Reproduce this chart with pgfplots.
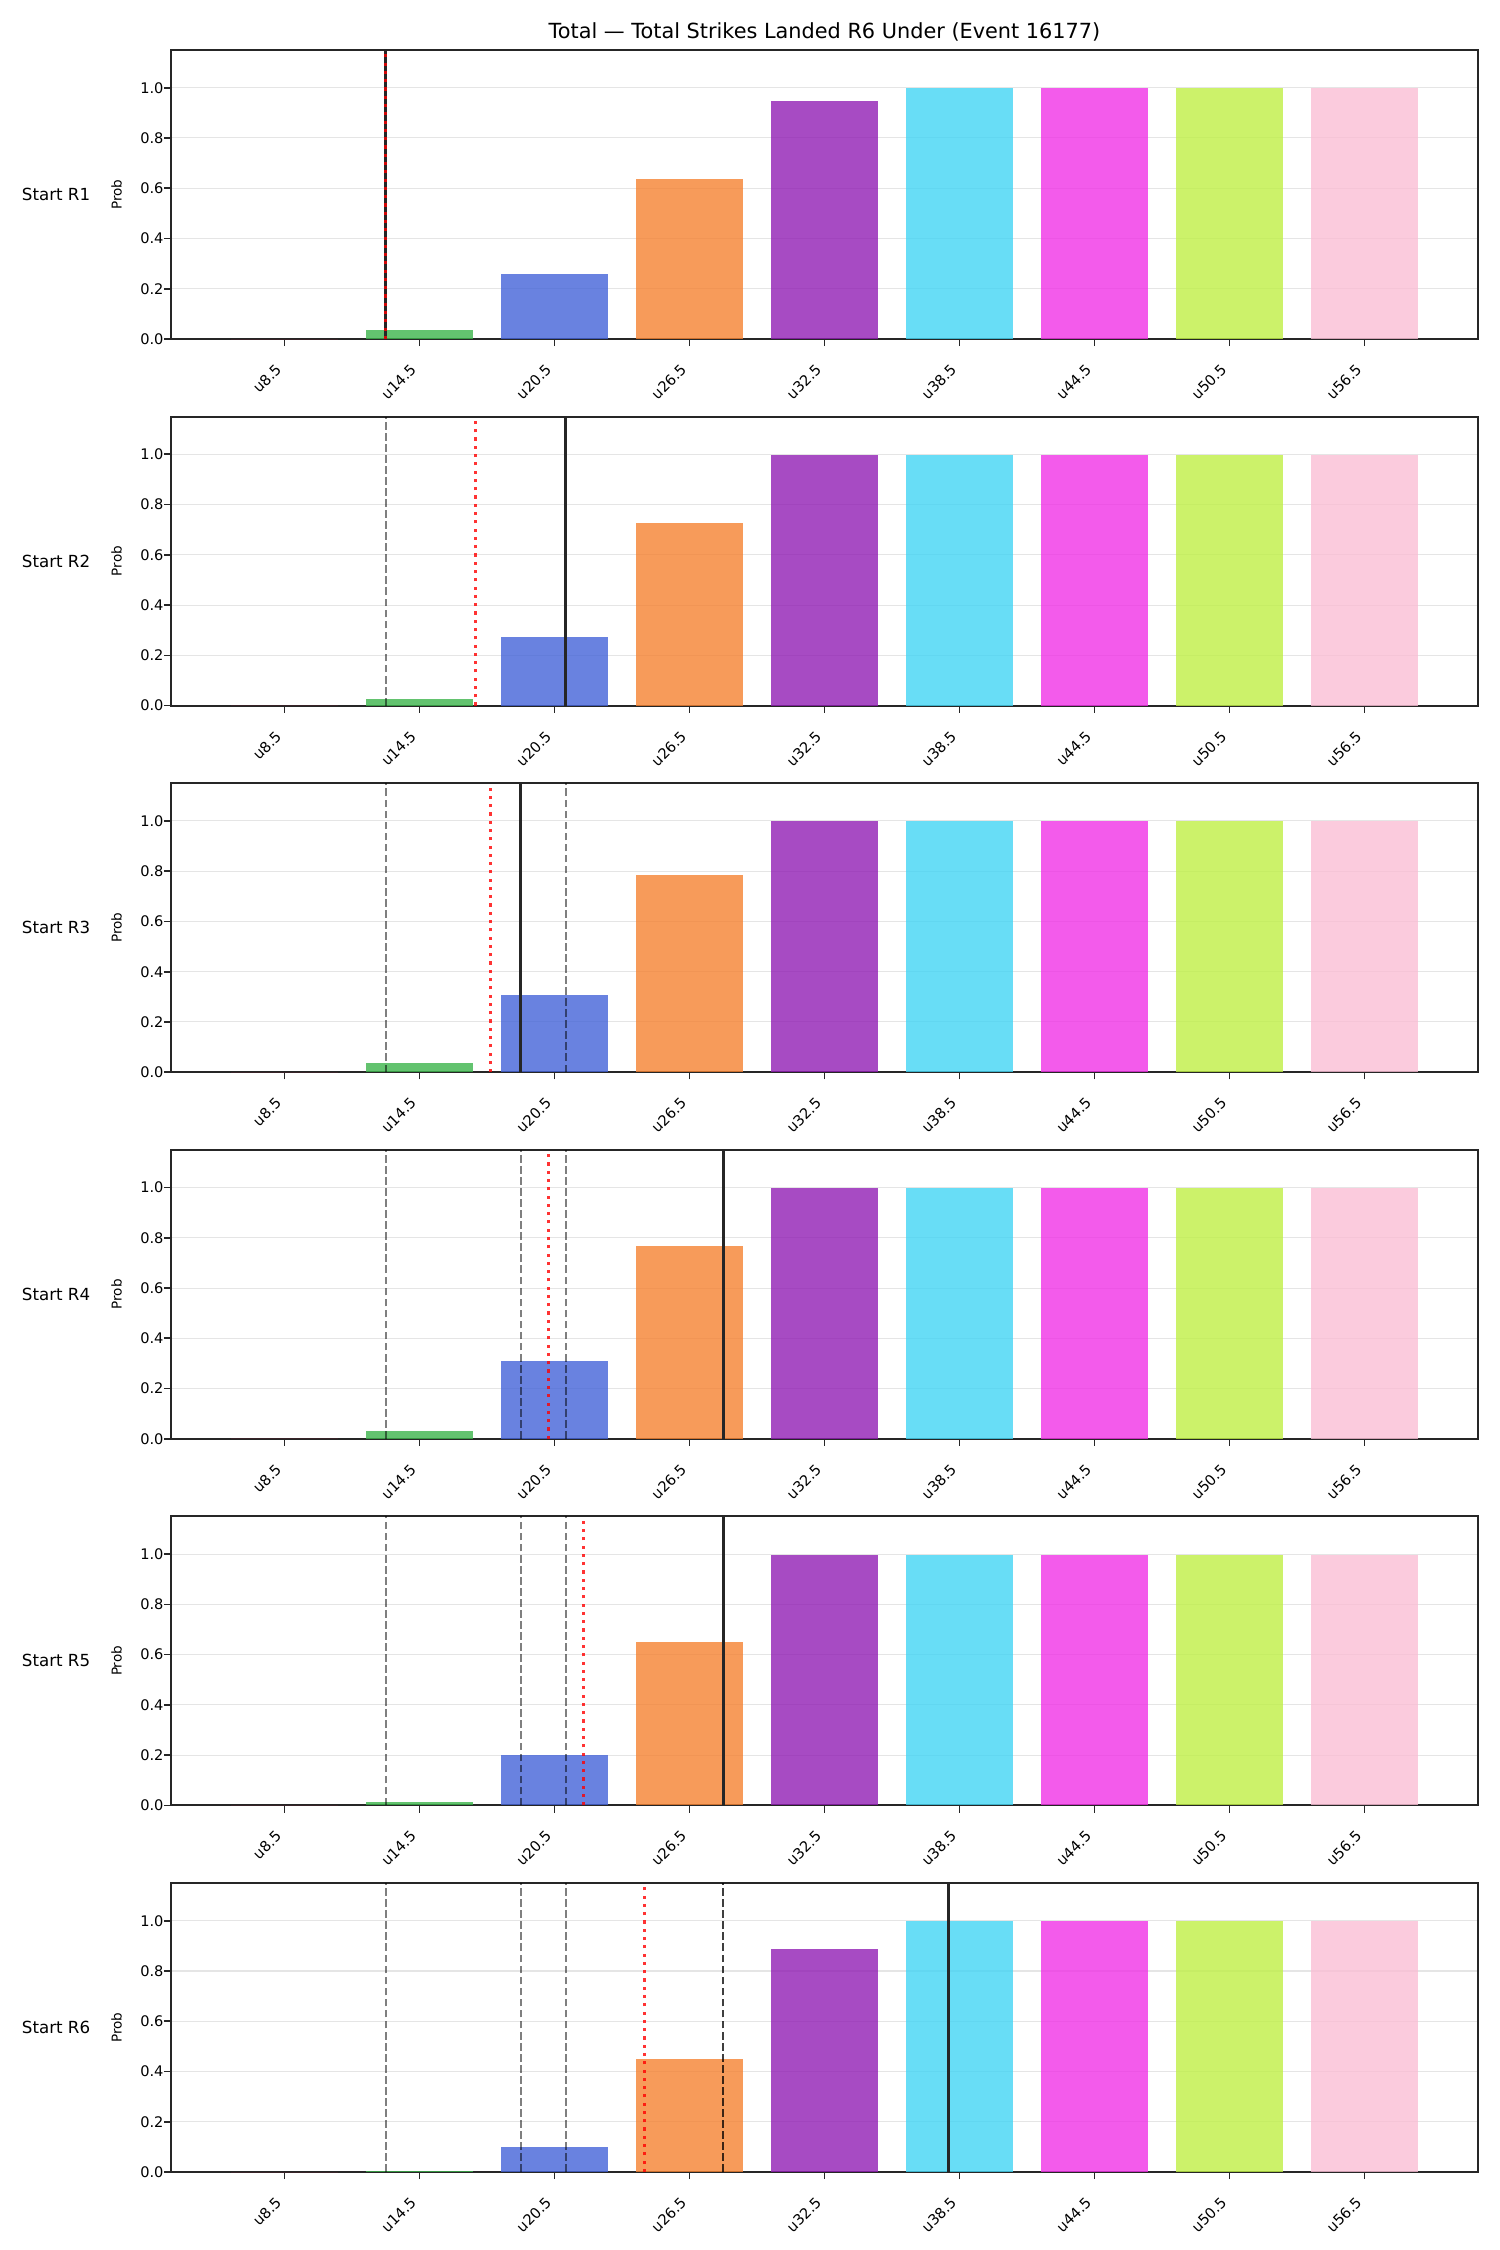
\documentclass[border=0pt]{standalone}
\usepackage{fontspec}
\setmainfont{DejaVu Sans}
\usepackage{pgfplots}
\usepackage{pgfplotstable}
\pgfplotsset{compat=1.18}

% bar colours, one per line
\definecolor{c0}{HTML}{E6194B}
\definecolor{c1}{HTML}{3CB44B}
\definecolor{c2}{HTML}{4363D8}
\definecolor{c3}{HTML}{F58231}
\definecolor{c4}{HTML}{911EB4}
\definecolor{c5}{HTML}{42D4F4}
\definecolor{c6}{HTML}{F032E6}
\definecolor{c7}{HTML}{BFEF45}
\definecolor{c8}{HTML}{FABED4}

% P(total under line) for each starting round
\pgfplotstableread{
idx  R1     R2     R3     R4     R5     R6
0    0.000  0.000  0.000  0.000  0.000  0.000
1    0.036  0.027  0.038  0.031  0.013  0.003
2    0.259  0.274  0.309  0.308  0.200  0.098
3    0.638  0.727  0.783  0.767  0.651  0.449
4    0.947  0.998  0.998  0.998  0.997  0.887
5    0.997  0.998  0.998  0.998  0.997  0.998
6    0.997  0.998  0.998  0.998  0.997  0.998
7    0.997  0.998  0.998  0.998  0.997  0.998
8    0.997  0.998  0.998  0.998  0.997  0.998
}\probs

\pgfplotsset{
  panel/.style={
    anchor=south west,
    width=627.36pt, height=138.72pt, scale only axis,
    clip mode=individual,
    xmin=-0.84, xmax=8.84, ymin=0, ymax=1.15,
    xtick={0,1,2,3,4,5,6,7,8},
    xticklabels={u8.5,u14.5,u20.5,u26.5,u32.5,u38.5,u44.5,u50.5,u56.5},
    ytick={0,0.2,0.4,0.6,0.8,1.0},
    yticklabel style={/pgf/number format/fixed,
      /pgf/number format/fixed zerofill,
      /pgf/number format/precision=1},
    /pgf/number format/assume math mode=true,
    tick align=outside, xtick pos=bottom, ytick pos=left,
    major tick length=3.4pt,
    tick style={black!85, line width=0.8pt},
    axis line style={black!85, line width=1pt},
    ymajorgrids, grid style={gray!20, line width=0.5pt},
    ticklabel style={font=\fontsize{7}{8}\selectfont},
    xticklabel style={xshift=-4.75pt, yshift=-8pt, rotate=45, anchor=north east, inner sep=0pt},
    yticklabel style={anchor=east, inner sep=0pt},
  },
}

% one coloured bar per line
\newcommand\bars[1]{%
  \pgfplotsinvokeforeach{0,...,8}{%
    \addplot[ybar, bar width=0.79, bar shift=0pt, fill=c##1, fill opacity=0.8,
      draw=none, restrict x to domain=##1:##1] table[x=idx, y=#1] {\probs};
  }%
}
% earlier rounds' totals (dashed), current total (solid), running mean (dotted)
\newcommand\vprev[1]{\addplot[black, opacity=0.5, line width=1pt, dash pattern=on 3.7pt off 1.6pt] coordinates {(#1,0) (#1,1.15)};}
\newcommand\vnow[1]{\addplot[black!85, line width=1.4pt] coordinates {(#1,0) (#1,1.15)};}
\newcommand\vmean[1]{\addplot[red, opacity=0.8, line width=1.5pt, dash pattern=on 1.5pt off 2.475pt] coordinates {(#1,0) (#1,1.15)};}
\newcommand\sidelabels[1]{%
  \node[anchor=east, inner sep=0pt, font=\fontsize{8}{9}\selectfont] at ([xshift=-38.6pt]rel axis cs:0,0.5) {#1};
  \node[rotate=90, anchor=base, inner sep=0pt, font=\fontsize{6.5}{7}\selectfont] at ([xshift=-23.7pt]rel axis cs:0,0.5) {Prob};
}

\begin{document}
\begin{tikzpicture}
\path[use as bounding box] (0,0) rectangle (720pt,-1080pt);

\begin{axis}[panel, at={(82.08pt,-162.72pt)}]
  \bars{R1}
  \vnow{0.75}
  \vmean{0.75}
  \sidelabels{Start R1}
  \node[anchor=base, inner sep=0pt, font=\fontsize{10}{12}\selectfont] at ([yshift=5.6pt]rel axis cs:0.5,1) {Total — Total Strikes Landed R6 Under (Event 16177)};
\end{axis}

\begin{axis}[panel, at={(82.08pt,-338.69pt)}]
  \bars{R2}
  \vprev{0.75}
  \vnow{2.0833}
  \vmean{1.4167}
  \sidelabels{Start R2}
\end{axis}

\begin{axis}[panel, at={(82.08pt,-514.66pt)}]
  \bars{R3}
  \vprev{0.75}
  \vprev{2.0833}
  \vnow{1.75}
  \vmean{1.5278}
  \sidelabels{Start R3}
\end{axis}

\begin{axis}[panel, at={(82.08pt,-690.62pt)}]
  \bars{R4}
  \vprev{0.75}
  \vprev{2.0833}
  \vprev{1.75}
  \vnow{3.25}
  \vmean{1.9583}
  \sidelabels{Start R4}
\end{axis}

\begin{axis}[panel, at={(82.08pt,-866.59pt)}]
  \bars{R5}
  \vprev{0.75}
  \vprev{2.0833}
  \vprev{1.75}
  \vprev{3.25}
  \vnow{3.25}
  \vmean{2.2167}
  \sidelabels{Start R5}
\end{axis}

\begin{axis}[panel, at={(82.08pt,-1042.56pt)}]
  \bars{R6}
  \vprev{0.75}
  \vprev{2.0833}
  \vprev{1.75}
  \vprev{3.25}
  \vprev{3.25}
  \vnow{4.9167}
  \vmean{2.6667}
  \sidelabels{Start R6}
\end{axis}
\end{tikzpicture}
\end{document}
